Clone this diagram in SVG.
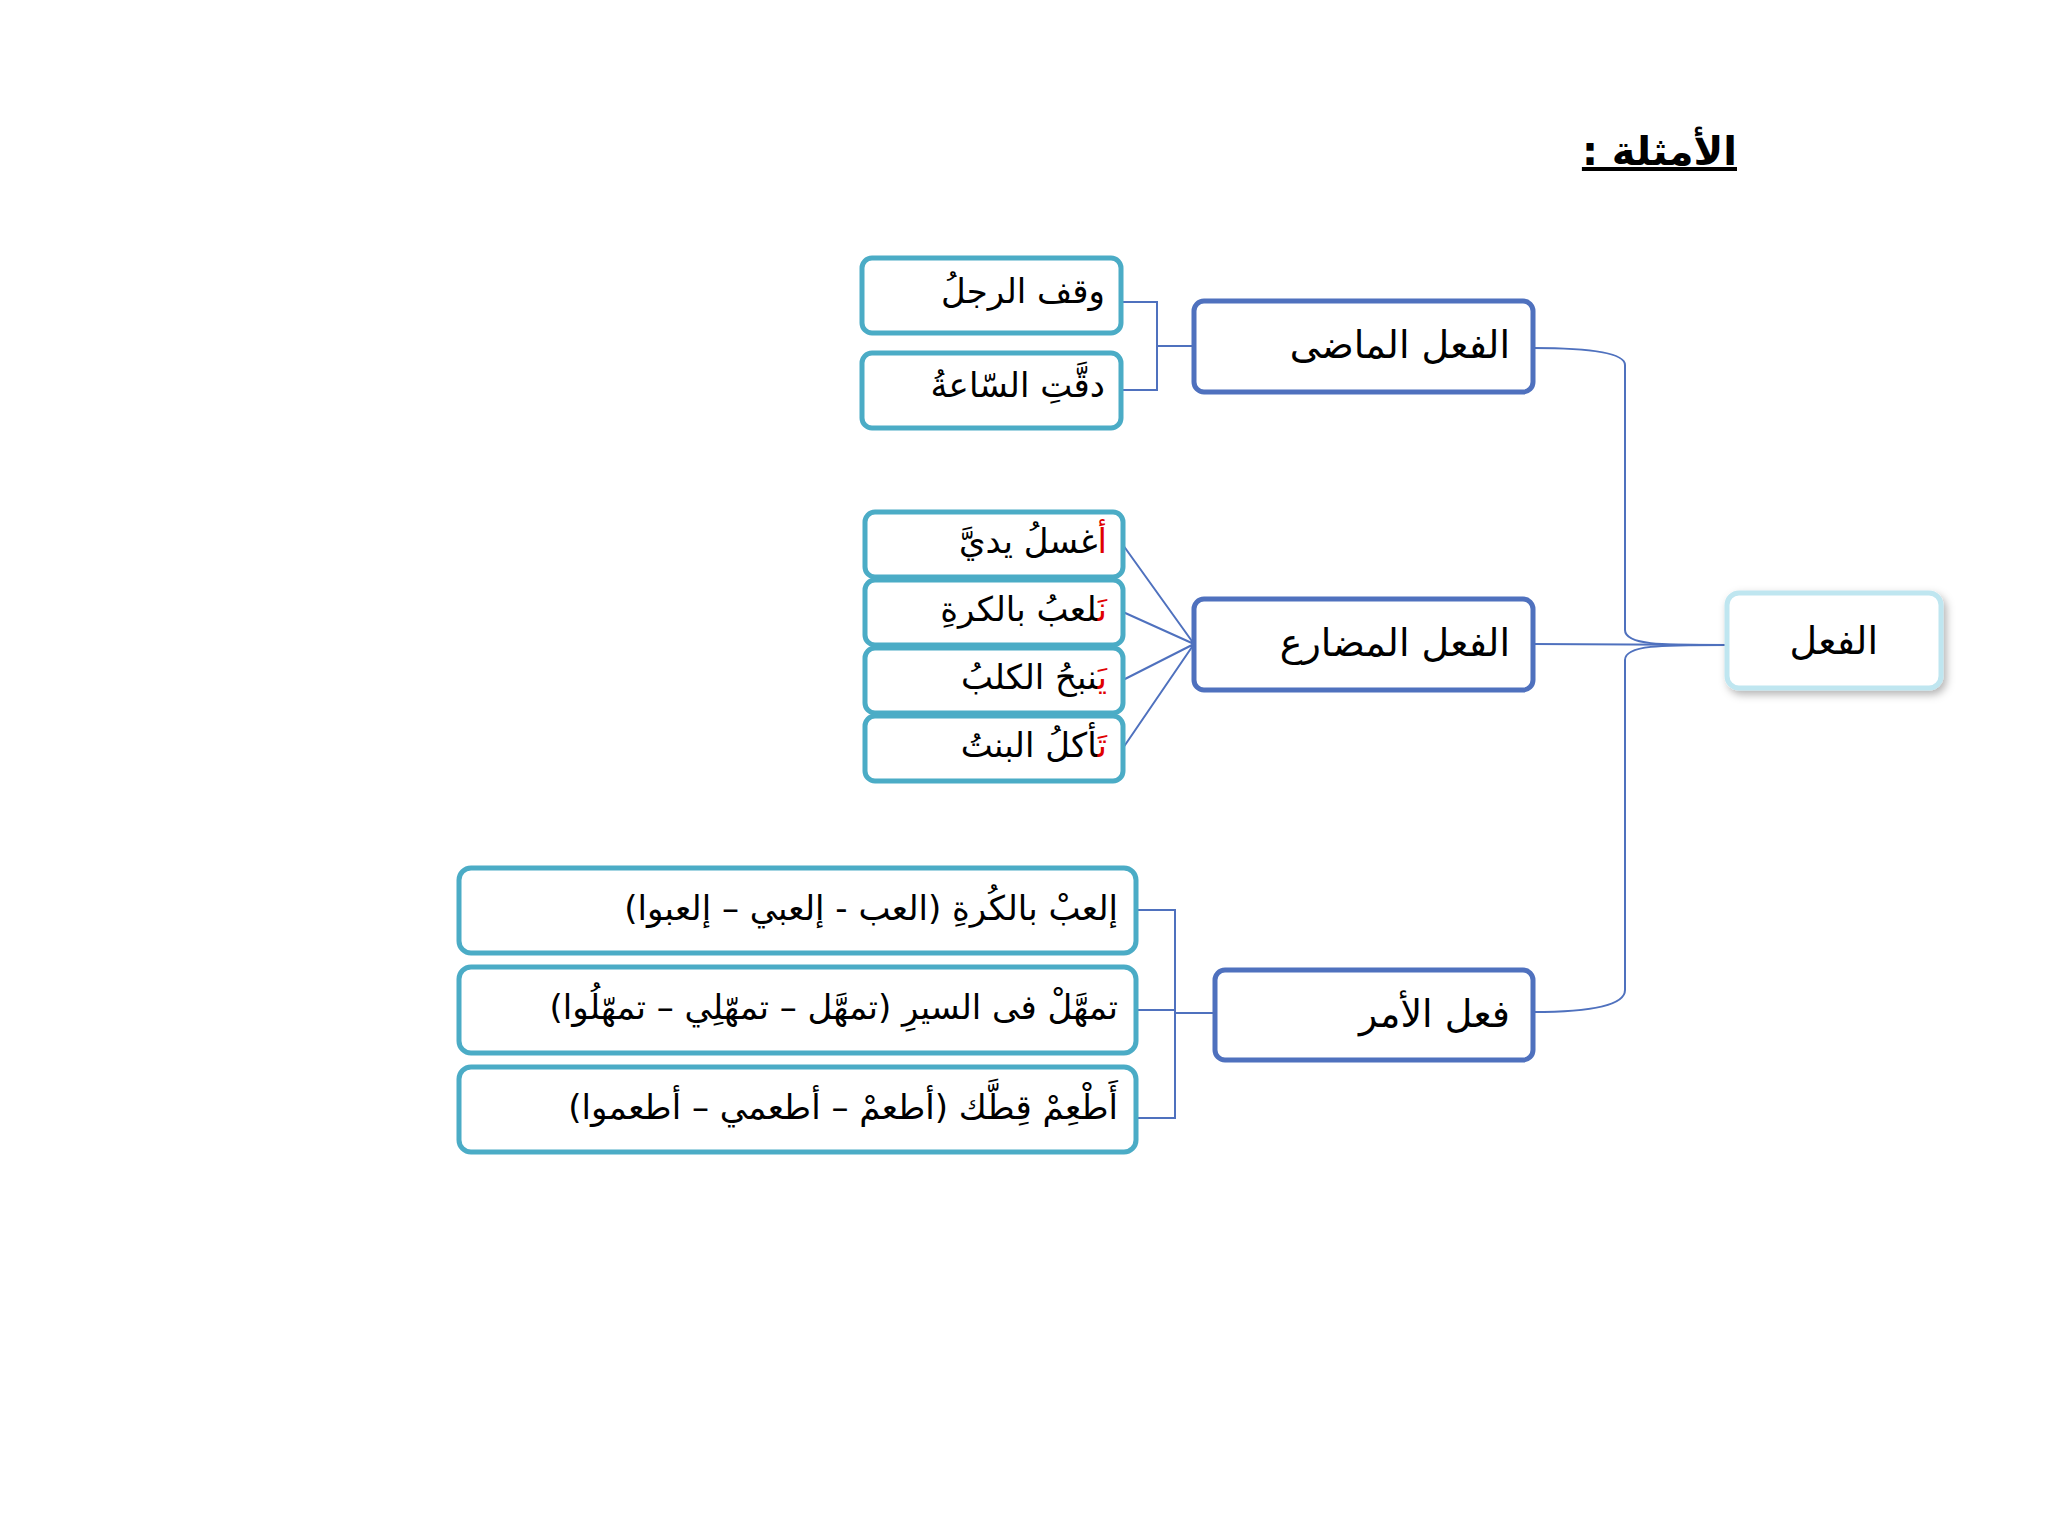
<svg xmlns="http://www.w3.org/2000/svg" width="2048" height="1536" viewBox="0 0 2048 1536">
<style>
text{font-family:"DejaVu Sans","Noto Sans",sans-serif;fill:#000;direction:rtl;text-anchor:start}
.main rect{fill:#fff;stroke:#4f71be;stroke-width:5}
.ex rect{fill:#fff;stroke:#4bacc6;stroke-width:5}
.n{font-size:38px}
.e{font-size:34px}
.r{fill:#e00000}
.c path{fill:none;stroke:#4f71be;stroke-width:2}
</style>
<defs><filter id="sh" x="-20%" y="-20%" width="140%" height="140%"><feDropShadow dx="3" dy="4" stdDeviation="4" flood-color="#000" flood-opacity="0.3"/></filter></defs>
<text x="1737" y="165" style="font-size:40px;font-weight:bold;text-decoration:underline">الأمثلة :</text>
<g class="c">
<path d="M1727,645 C1660,645 1625,645 1625,630 L1625,365 Q1625,348 1533,348"/>
<path d="M1727,645 C1660,645 1625,645 1625,660 L1625,990 Q1625,1012 1533,1012"/>
<path d="M1727,645 L1533,644"/>
<path d="M1121,302 L1157,302 L1157,346 L1194,346 M1121,390 L1157,390 L1157,346"/>
<path d="M1194,644 L1123,545 M1194,644 L1123,612 M1194,644 L1123,680 M1194,644 L1123,748"/>
<path d="M1136,910 L1175,910 L1175,1013 L1215,1013 M1136,1010 L1175,1010 M1136,1118 L1175,1118 L1175,1013"/>
</g>
<g id="root"><rect x="1727" y="593" width="214" height="95" rx="12" fill="#fff" stroke="#bfe6f0" stroke-width="5" filter="url(#sh)"/><text class="n" x="1878" y="654">الفعل</text></g>
<g id="past" class="main"><rect x="1194" y="301" width="339" height="91" rx="10"/><text class="n" x="1510" y="358">الفعل الماضى</text></g>
<g id="present" class="main"><rect x="1194" y="599" width="339" height="91" rx="10"/><text class="n" x="1510" y="656">الفعل المضارع</text></g>
<g id="imp" class="main"><rect x="1215" y="970" width="318" height="90" rx="10"/><text class="n" x="1510" y="1027">فعل الأمر</text></g>
<g id="p1" class="ex"><rect x="862" y="258" width="259" height="75" rx="10"/><text class="e" x="1105" y="303">وقف الرجلُ</text></g>
<g id="p2" class="ex"><rect x="862" y="353" width="259" height="75" rx="10"/><text class="e" x="1105" y="397">دقَّتِ السّاعةُ</text></g>
<g id="m1" class="ex"><rect x="865" y="512" width="258" height="65" rx="10"/><text class="e" x="1107" y="553"><tspan class="r">أ</tspan>غسلُ يديَّ</text></g>
<g id="m2" class="ex"><rect x="865" y="580" width="258" height="65" rx="10"/><text class="e" x="1107" y="621"><tspan class="r">نَ</tspan>لعبُ بالكرةِ</text></g>
<g id="m3" class="ex"><rect x="865" y="648" width="258" height="65" rx="10"/><text class="e" x="1107" y="689"><tspan class="r">يَ</tspan>نبحُ الكلبُ</text></g>
<g id="m4" class="ex"><rect x="865" y="716" width="258" height="65" rx="10"/><text class="e" x="1107" y="757"><tspan class="r">تَ</tspan>أكلُ البنتُ</text></g>
<g id="i1" class="ex"><rect x="459" y="868" width="677" height="85" rx="12"/><text class="e" x="1118" y="920">إلعبْ بالكُرةِ (العب - إلعبي – إلعبوا)</text></g>
<g id="i2" class="ex"><rect x="459" y="967" width="677" height="86" rx="12"/><text class="e" x="1118" y="1019">تمهَّلْ فى السيرِ (تمهَّل – تمهّلِي – تمهّلُوا)</text></g>
<g id="i3" class="ex"><rect x="459" y="1067" width="677" height="85" rx="12"/><text class="e" x="1118" y="1119">أَطْعِمْ قِطَّك (أطعمْ – أطعمي – أطعموا)</text></g>
</svg>
